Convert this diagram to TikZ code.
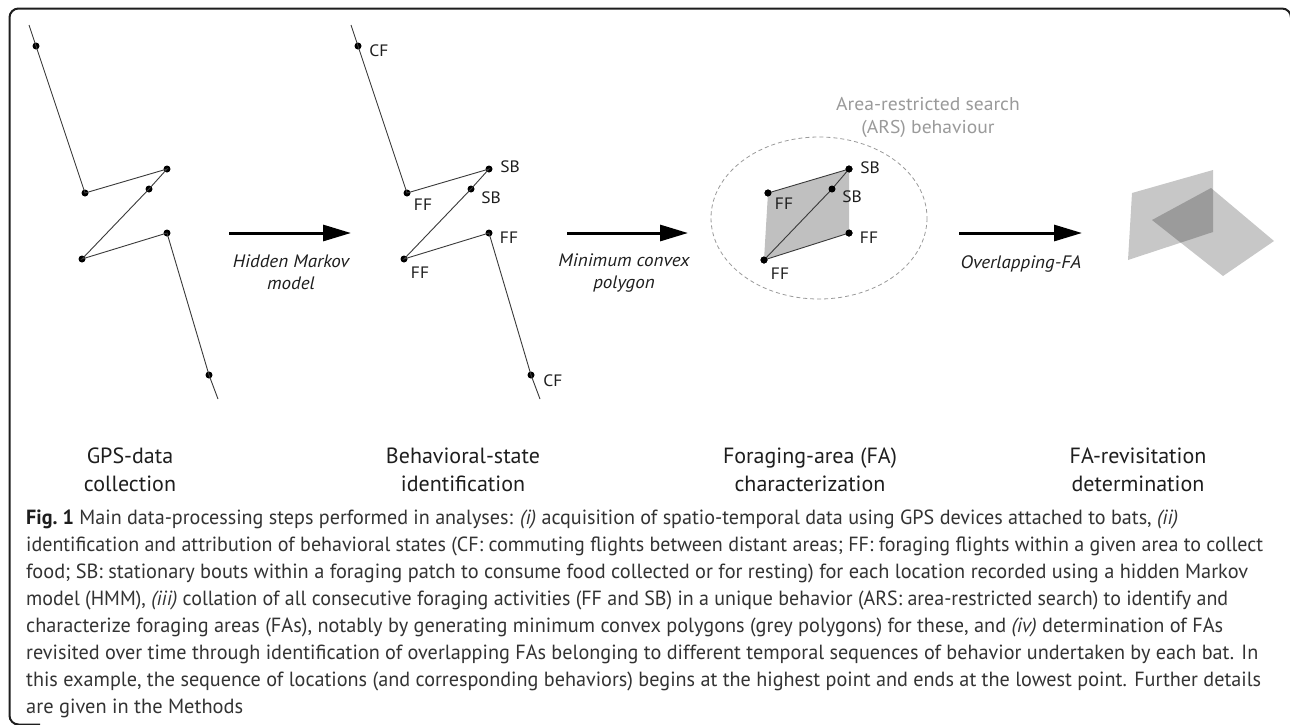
\documentclass[tikz,border=0pt]{standalone}
\usepackage{fontspec}
\usepackage{graphicx}
\setmainfont{PT Sans}
\newfontfamily\labfont{PT Sans}[FakeStretch=1.06]
\usetikzlibrary{arrows.meta}
\definecolor{ink}{HTML}{1E1E1E}
\definecolor{captxt}{HTML}{333333}
\definecolor{trackline}{HTML}{3A3A3A}
\definecolor{polyfill}{HTML}{C0C0C0}
\definecolor{arscol}{HTML}{9A9A9A}
\newcommand\fitline[2]{\resizebox{#1pt}{\height}{#2}}
\tikzset{
  dot/.style={circle,fill=black,inner sep=0pt,minimum size=7pt},
  track/.style={draw=trackline,line width=0.9pt},
  lab/.style={font=\labfont\fontsize{16.5}{18}\selectfont,text=ink,inner sep=0pt},
  bigarrow/.style={line width=3pt,-{Triangle[length=28pt,width=16pt]}},
  arrlab/.style={font=\labfont\fontsize{18}{20}\selectfont\itshape,text=ink,inner sep=0pt,anchor=base},
  head/.style={font=\fontsize{22}{26}\selectfont,text=ink,inner sep=0pt,anchor=base},
  capline/.style={font=\fontsize{20.5}{24}\selectfont,text=captxt,inner sep=0pt,anchor=base west},
  arstext/.style={font=\labfont\fontsize{18.5}{20}\selectfont,text=arscol,inner sep=0pt,anchor=base},
}
\begin{document}
\begin{tikzpicture}[x=1pt,y=-1pt]
\useasboundingbox (0,0) rectangle (1290,724);
\fill[white] (0,0) rectangle (1290,724);
% frame
\draw[ink,line width=2pt,rounded corners=9pt] (1291,40) -- (1291,8.5) -- (9.5,8.5) -- (9.5,724.5) -- (40,724.5);

% ---------- panel 1 ----------
\coordinate (s1) at (29,25);
\coordinate (e1) at (218,399);
\node[dot] (p1) at (36,46) {};
\node[dot] (p2) at (85,193) {};
\node[dot] (p3) at (167,169) {};
\node[dot] (p4) at (149,189) {};
\node[dot] (p5) at (82,259) {};
\node[dot] (p6) at (167,233) {};
\node[dot] (p7) at (209,375) {};
\draw[track] (s1) -- (p1.center) -- (p2.center) -- (p3.center) -- (p4.center) -- (p5.center) -- (p6.center) -- (p7.center) -- (e1);

% ---------- panel 2 ----------
\coordinate (s2) at (351,25);
\coordinate (e2) at (540,399);
\node[dot] (q1) at (358,46) {};
\node[dot] (q2) at (407,193) {};
\node[dot] (q3) at (489,169) {};
\node[dot] (q4) at (471,189) {};
\node[dot] (q5) at (404,259) {};
\node[dot] (q6) at (489,233) {};
\node[dot] (q7) at (531,375) {};
\draw[track] (s2) -- (q1.center) -- (q2.center) -- (q3.center) -- (q4.center) -- (q5.center) -- (q6.center) -- (q7.center) -- (e2);
\node[lab] at (379,51) {CF};
\node[lab] at (423,205) {FF};
\node[lab] at (510,167) {SB};
\node[lab] at (491,198) {SB};
\node[lab] at (420,273) {FF};
\node[lab] at (509,238) {FF};
\node[lab] at (553,381) {CF};

% ---------- panel 3 ----------
\draw[arscol,line width=0.8pt,dash pattern=on 4pt off 3pt] (819,218) ellipse [x radius=108, y radius=81];
\node[dot] (r2) at (768,193) {};
\node[dot] (r3) at (849,169) {};
\node[dot] (r4) at (832,189) {};
\node[dot] (r5) at (764,260) {};
\node[dot] (r6) at (849,233) {};
\fill[polyfill] (r2.center) -- (r3.center) -- (r6.center) -- (r5.center) -- cycle;
\draw[track] (r2.center) -- (r3.center) -- (r4.center) -- (r5.center) -- (r6.center);
\node[dot] at (r2) {};
\node[dot] at (r3) {};
\node[dot] at (r4) {};
\node[dot] at (r5) {};
\node[dot] at (r6) {};
\node[lab] at (784,204) {FF};
\node[lab] at (870,168) {SB};
\node[lab] at (852,197) {SB};
\node[lab] at (780,274) {FF};
\node[lab] at (869,238) {FF};
\node[arstext] at (928,110) {Area-restricted search};
\node[arstext] at (928,133) {(ARS) behaviour};

% ---------- panel 4 ----------
\fill[black,fill opacity=0.22] (1132,193) -- (1213,170) -- (1213,232) -- (1128,260) -- cycle;
\fill[black,fill opacity=0.22] (1152,220) -- (1211,188) -- (1274,241) -- (1223,276) -- cycle;

% ---------- arrows ----------
\coordinate (a1s) at (229,233); \coordinate (a1e) at (351,233);
\coordinate (a2s) at (567,233); \coordinate (a2e) at (688,233);
\coordinate (a3s) at (959,233); \coordinate (a3e) at (1082,233);
\draw[bigarrow] (a1s) -- (a1e);
\draw[bigarrow] (a2s) -- (a2e);
\draw[bigarrow] (a3s) -- (a3e);
\node[arrlab] at (291,267) {Hidden Markov};
\node[arrlab] at (291,289) {model};
\node[arrlab] at (624,266) {Minimum convex};
\node[arrlab] at (624,288) {polygon};
\node[arrlab] at (1021,268) {Overlapping-FA};

% ---------- headings ----------
\node[head] at (130,463) {GPS-data};
\node[head] at (130,491) {collection};
\node[head] at (463,463) {Behavioral-state};
\node[head] at (463,491) {identification};
\node[head] at (810,463) {Foraging-area (FA)};
\node[head] at (810,491) {characterization};
\node[head] at (1138,463) {FA-revisitation};
\node[head] at (1138,491) {determination};

% ---------- caption ----------
\node[capline] at (26,524) {\fitline{1152}{{\bfseries\color{ink}Fig.~1} Main data-processing steps performed in analyses: \textit{(i)} acquisition of spatio-temporal data using GPS devices attached to bats, \textit{(ii)}}};
\node[capline] at (26,551) {\fitline{1237}{identification and attribution of behavioral states (CF: commuting flights between distant areas; FF: foraging flights within a given area to collect}};
\node[capline] at (26,578) {\fitline{1222}{food; SB: stationary bouts within a foraging patch to consume food collected or for resting) for each location recorded using a hidden Markov}};
\node[capline] at (26,605) {\fitline{1202}{model (HMM), \textit{(iii)} collation of all consecutive foraging activities (FF and SB) in a unique behavior (ARS: area-restricted search) to identify and}};
\node[capline] at (26,632) {\fitline{1197}{characterize foraging areas (FAs), notably by generating minimum convex polygons (grey polygons) for these, and \textit{(iv)} determination of FAs}};
\node[capline] at (26,659) {\fitline{1232}{revisited over time through identification of overlapping FAs belonging to different temporal sequences of behavior undertaken by each bat. In}};
\node[capline] at (26,686) {\fitline{1235}{this example, the sequence of locations (and corresponding behaviors) begins at the highest point and ends at the lowest point. Further details}};
\node[capline] at (26,713) {\fitline{217}{are given in the Methods}};
\end{tikzpicture}
\end{document}
